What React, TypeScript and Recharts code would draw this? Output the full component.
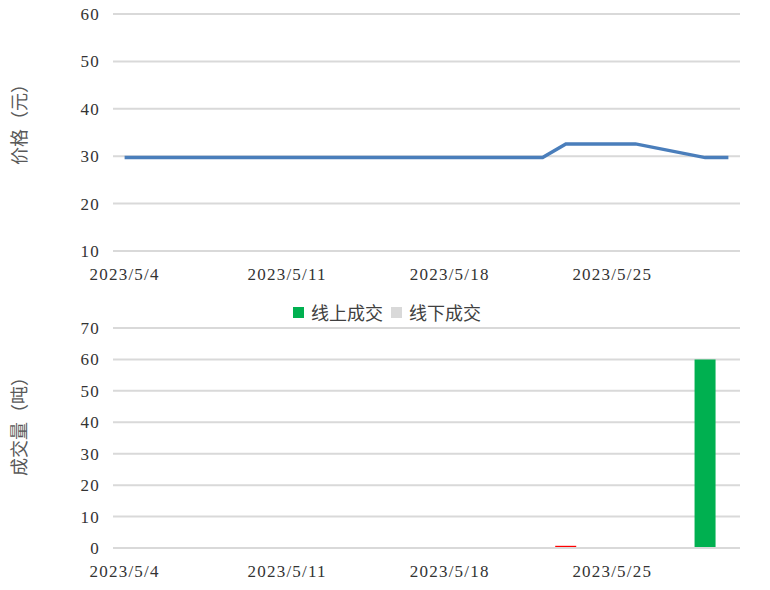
import { LineChart, Line, BarChart, Bar, Cell, XAxis, YAxis, CartesianGrid, Legend } from 'recharts';

const days = [
  '2023/5/4', '2023/5/5', '2023/5/6', '2023/5/7', '2023/5/8', '2023/5/9', '2023/5/10',
  '2023/5/11', '2023/5/12', '2023/5/13', '2023/5/14', '2023/5/15', '2023/5/16', '2023/5/17',
  '2023/5/18', '2023/5/19', '2023/5/20', '2023/5/21', '2023/5/22', '2023/5/23', '2023/5/24',
  '2023/5/25', '2023/5/26', '2023/5/27', '2023/5/28', '2023/5/29', '2023/5/30',
];
const tickDays = ['2023/5/4', '2023/5/11', '2023/5/18', '2023/5/25'];

// 价格（元），周末为空
const prices = [
  29.7, 29.7, null, null, 29.7, 29.7, 29.7,
  29.7, 29.7, null, null, 29.7, 29.7, 29.7,
  29.7, 29.7, null, null, 29.7, 32.6, 32.6,
  32.6, 32.6, null, null, 29.7, 29.7,
];

// 成交量（吨）
const onlineVol = [
  0, 0, 0, 0, 0, 0, 0,
  0, 0, 0, 0, 0, 0, 0,
  0, 0, 0, 0, 0, 0, 0,
  0, 0, 0, 0, 60, 0,
];
const offlineVol = [
  0, 0, 0, 0, 0, 0, 0,
  0, 0, 0, 0, 0, 0, 0,
  0, 0, 0, 0, 0, 0.7, 0,
  0, 0, 0, 0, 0, 0,
];
const priceTicks = [10, 20, 30, 40, 50, 60];
const volTicks = [0, 10, 20, 30, 40, 50, 60, 70];

const priceData = days.map((d, i) => ({ day: d, price: prices[i] }));
const volData = days.map((d, i) => ({ day: d, online: onlineVol[i], offline: offlineVol[i] }));

const GRID = '#d9d9d9';
const serif = '"Liberation Serif", "DejaVu Serif", serif';
const tickStyle = {
  fontFamily: serif,
  fontSize: 17,
  fill: '#333',
  letterSpacing: 1.2,
  style: { fontFamily: serif, fontSize: 17, letterSpacing: 1.2 },
};
const cjk = '"Noto Sans CJK SC", sans-serif';

function AxisTitle({ text, cy }: { text: string; cy: number }) {
  return (
    <text
      x={18}
      y={cy}
      transform={`rotate(-90 18 ${cy})`}
      textAnchor="middle"
      dominantBaseline="central"
      style={{ fontFamily: cjk, fontSize: 18, fill: '#595959' }}
    >
      {text}
    </text>
  );
}

function LegendBox() {
  const items = [
    { name: '线上成交', color: '#00b050' },
    { name: '线下成交', color: '#d9d9d9' },
  ];
  return (
    <div style={{ display: 'flex', gap: 8, fontFamily: cjk, fontSize: 18, color: '#404040', lineHeight: '20px' }}>
      {items.map(it => (
        <span key={it.name} style={{ display: 'flex', alignItems: 'center' }}>
          <span style={{ width: 11, height: 11, background: it.color, display: 'inline-block', marginRight: 7 }} />
          {it.name}
        </span>
      ))}
    </div>
  );
}

export default function App() {
  return (
    <div style={{ position: 'absolute', left: 0, top: 0, width: 770, height: 590, background: '#fff' }}>
      <LineChart width={770} height={290} data={priceData} margin={{ top: 14, right: 30, left: 0, bottom: 0 }}>
        <CartesianGrid vertical={false} stroke={GRID} strokeWidth={2} />
        <XAxis
          dataKey="day"
          scale="band"
          ticks={tickDays}
          interval={0}
          tickLine={false}
          axisLine={{ stroke: GRID, strokeWidth: 2 }}
          tick={tickStyle}
          tickMargin={11}
          height={39}
        />
        <YAxis
          width={113}
          domain={[10, 60]}
          ticks={priceTicks}
          tickLine={false}
          axisLine={false}
          tick={tickStyle}
          tickMargin={7}
        />
        <Line
          type="linear"
          dataKey="price"
          stroke="#4a7ebb"
          strokeWidth={3.5}
          dot={false}
          connectNulls
          isAnimationActive={false}
        />
        <AxisTitle text="价格（元）" cy={120} />
      </LineChart>
      <BarChart width={770} height={300} data={volData} margin={{ top: 18, right: 30, left: 0, bottom: 0 }} barSize={21}>
        <Legend verticalAlign="top" wrapperStyle={{ left: 293, width: 'auto', top: 12 }} content={<LegendBox />} />
        <CartesianGrid vertical={false} stroke={GRID} strokeWidth={2} />
        <XAxis
          dataKey="day"
          ticks={tickDays}
          interval={0}
          tickLine={false}
          axisLine={{ stroke: GRID, strokeWidth: 2 }}
          tick={tickStyle}
          tickMargin={11}
          height={42}
        />
        <YAxis
          width={113}
          domain={[0, 70]}
          ticks={volTicks}
          tickLine={false}
          axisLine={false}
          tick={tickStyle}
          tickMargin={7}
        />
        <Bar dataKey="online" name="线上成交" stackId="v" fill="#00b050" isAnimationActive={false} />
        <Bar dataKey="offline" name="线下成交" stackId="v" fill="#d9d9d9" isAnimationActive={false}>
          {volData.map((d, i) => (
            <Cell key={`c-${i}`} fill={d.offline > 0 ? '#ff0000' : '#d9d9d9'} />
          ))}
        </Bar>
        <AxisTitle text="成交量（吨）" cy={132} />
      </BarChart>
    </div>
  );
}
